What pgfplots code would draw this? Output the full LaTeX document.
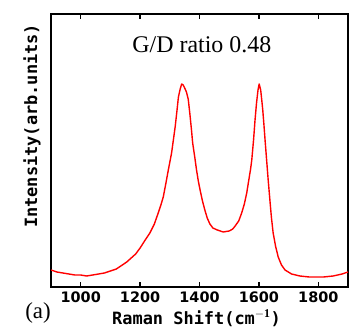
\documentclass[border=0pt]{standalone}
\usepackage{fontspec}
\setmainfont{Liberation Serif}
\newfontfamily\tickfont{DejaVu Sans}
\newfontfamily\labfont{DejaVu Sans Mono}
\usepackage{pgfplots}
\pgfplotsset{compat=1.18}
\begin{document}
\begin{tikzpicture}
\useasboundingbox (-51bp,-48bp) rectangle (301bp,287bp);
\begin{axis}[
  scale only axis,
  width=297bp, height=273bp,
  xmin=900, xmax=1900, ymin=0, ymax=273,
  xtick={1000,1200,1400,1600,1800},
  ytick=\empty,
  tick align=inside,
  xtick pos=both,
  major tick length=5bp,
  axis line style={line width=1.3pt},
  tick style={line width=1.3pt, black},
  /pgf/number format/assume math mode=true,
  /pgf/number format/set thousands separator={},
  xticklabel style={font=\fontsize{14.5}{17}\selectfont\tickfont\bfseries, yshift=-1bp},
  xlabel={Raman Shift(cm$^{\mathbf{-1}}$)},
  xlabel style={font=\fontsize{17}{19}\selectfont\labfont\bfseries, at={(axis description cs:0.49,-0.114)}, anchor=center},
  ylabel={Intensity(arb.units)},
  ylabel style={font=\fontsize{17}{19}\selectfont\labfont\bfseries, at={(axis description cs:-0.064,0.59)}, anchor=center},
  clip=true,
]
\addplot[red, line width=1.4pt, line join=round] coordinates {
(900,17) (920,15) (940,14) (960,13) (980,12) (1000,12) (1020,11) (1040,12) (1060,13) (1080,14) (1100,16)
(1120,18) (1140,22) (1155,25) (1170,29) (1185,33) (1200,39) (1215,46) (1233,54) (1248,63) (1261,74)
(1270,82) (1278,90) (1287,104) (1295,117) (1306,134) (1312,147) (1318,160) (1324,176) (1329,190)
(1335,198) (1340,203) (1345,202) (1350,199) (1356,195) (1362,188) (1368,172) (1373,157) (1377,144)
(1384,130) (1390,117) (1396,106) (1402,97) (1410,86) (1418,77) (1426,69) (1435,63) (1445,59)
(1460,57) (1480,55) (1500,56) (1512,58) (1520,61) (1532,66) (1542,74) (1551,83) (1559,94)
(1566,107) (1572,118) (1576,127) (1582,147) (1587,167) (1592,184) (1597,197) (1601,203) (1606,197)
(1610,186) (1613,177) (1617,162) (1621,146) (1626,127) (1631,108) (1637,87) (1642,70) (1648,54)
(1656,41) (1665,30) (1676,22) (1688,17) (1710,13) (1738,11) (1770,10) (1800,10) (1817,10)
(1850,11) (1880,13) (1900,15)
};
\node[font=\fontsize{24}{26}\selectfont, anchor=center] at (axis description cs:0.508,0.886) {G/D ratio 0.48};
\end{axis}
\node[font=\fontsize{23}{25}\selectfont, anchor=center] at (-13bp,-26bp) {(a)};
\end{tikzpicture}
\end{document}
